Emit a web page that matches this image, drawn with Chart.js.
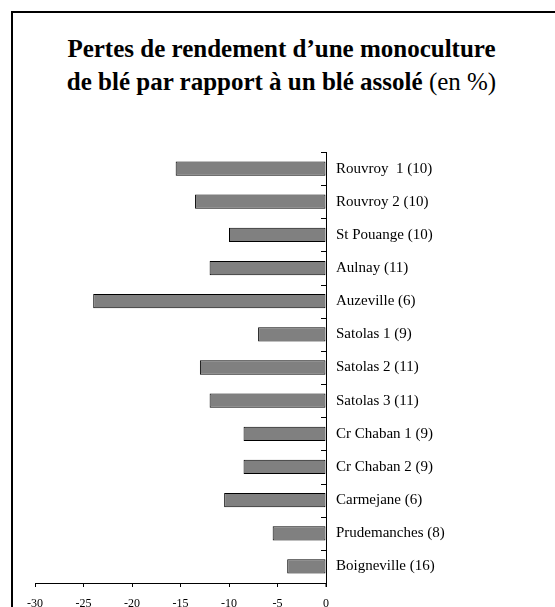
<!DOCTYPE html>
<html lang="fr">
<head>
  <meta charset="UTF-8">
  <title>Pertes de rendement d'une monoculture de blé</title>
  <script src="https://cdn.jsdelivr.net/npm/chart.js"></script>
  <style>
    body {
      margin: 0;
      background: #fff;
      font-family: 'Liberation Serif', 'Times New Roman', serif;
    }
    .page {
      position: relative;
      width: 555px;
      height: 607px;
      overflow: hidden;
    }
    .frame {
      position: absolute;
      left: 11px;
      top: 11px;
      width: 600px;
      height: 700px;
      border: 2px solid #000;
      box-sizing: border-box;
    }
    h1 {
      position: absolute;
      top: 32px;
      left: 4px;
      width: 555px;
      margin: 0;
      text-align: center;
      font-size: 25px;
      line-height: 33px;
      font-weight: bold;
      color: #000;
    }
    h1 span {
      font-weight: normal;
    }
    canvas {
      position: absolute;
      left: 0;
      top: 0;
    }
  </style>
</head>
<body>
  <div class="page">
    <div class="frame"></div>
    <h1>Pertes de rendement d’une monoculture<br>de blé par rapport à un blé assolé <span>(en %)</span></h1>
    <canvas id="chart" width="555" height="607"></canvas>
  </div>

  <script>
    const sites = ['Rouvroy  1 (10)', 'Rouvroy 2 (10)', 'St Pouange (10)', 'Aulnay (11)', 'Auzeville (6)',
      'Satolas 1 (9)', 'Satolas 2 (11)', 'Satolas 3 (11)', 'Cr Chaban 1 (9)', 'Cr Chaban 2 (9)',
      'Carmejane (6)', 'Prudemanches (8)', 'Boigneville (16)'];
    const pertes = [-15.5, -13.5, -10, -12, -24, -7, -13, -12, -8.5, -8.5, -10.5, -5.5, -4];
    const xMin = -30;
    const xMax = 0;
    const xStep = 5;

    const serif = "'Liberation Serif', 'Times New Roman', serif";

    // petits traits à gauche de l'axe, entre les catégories
    const ticksGauche = {
      id: 'ticksGauche',
      afterDraw(chart) {
        const ctx = chart.ctx;
        const y = chart.scales.y;
        const area = chart.chartArea;
        ctx.save();
        ctx.strokeStyle = '#000';
        ctx.lineWidth = 1;
        ctx.beginPath();
        for (let i = 0; i <= sites.length; i++) {
          const py = Math.round(y.getPixelForValue(i - 0.5)) + 0.5;
          ctx.moveTo(area.right - 5, py);
          ctx.lineTo(area.right, py);
        }
        ctx.moveTo(area.right, area.bottom);
        ctx.lineTo(area.right, area.bottom + 4);
        ctx.stroke();
        ctx.restore();
      }
    };

    new Chart(document.getElementById('chart'), {
      type: 'bar',
      data: {
        labels: sites,
        datasets: [{
          data: pertes,
          backgroundColor: '#808080',
          borderColor: '#000',
          borderWidth: 1,
          borderSkipped: false,
          barPercentage: 0.43,
          categoryPercentage: 1
        }]
      },
      options: {
        indexAxis: 'y',
        responsive: false,
        animation: false,
        layout: { padding: { left: 35, top: 152, right: 0, bottom: 0 } },
        plugins: {
          legend: { display: false },
          tooltip: { enabled: false }
        },
        scales: {
          x: {
            min: xMin,
            max: xMax,
            ticks: {
              stepSize: xStep,
              color: '#000',
              padding: 10,
              font: { family: serif, size: 12 }
            },
            grid: { drawOnChartArea: false, tickLength: 4, color: '#000' },
            border: { display: true, color: '#000', width: 1 },
            afterFit(scale) { scale.height = 24; }
          },
          y: {
            position: 'right',
            ticks: {
              color: '#000',
              padding: 10,
              font: { family: serif, size: 15 }
            },
            grid: { drawOnChartArea: false, drawTicks: false },
            border: { display: true, color: '#000', width: 1 },
            afterFit(scale) { scale.width = 229; }
          }
        }
      },
      plugins: [ticksGauche]
    });
  </script>
</body>
</html>
